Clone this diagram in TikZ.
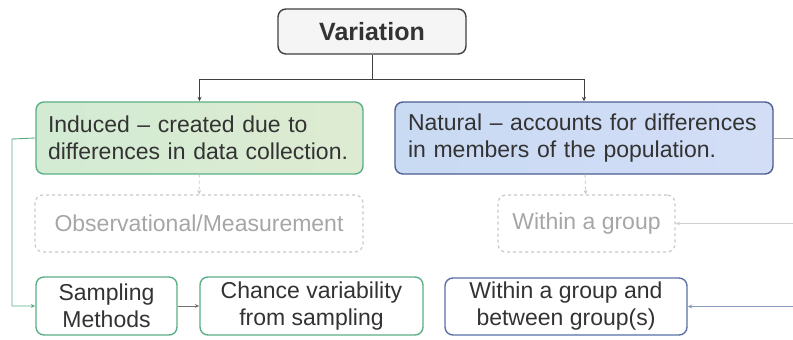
\documentclass[tikz,border=0pt]{standalone}
\usepackage{fontspec}
\setmainfont{Liberation Sans}
\usetikzlibrary{arrows.meta}
\definecolor{leafgreen}{HTML}{5BAF86}
\definecolor{leafblue}{HTML}{5B6FA8}
\definecolor{softgray}{HTML}{C8C8C8}
\definecolor{greenL}{HTML}{D3EBD3}
\definecolor{greenR}{HTML}{DDEBD2}
\definecolor{blueL}{HTML}{C9DAF3}
\definecolor{blueR}{HTML}{D3DDF6}
\begin{document}
\begin{tikzpicture}[x=1pt, y=-1pt, >={Stealth[length=4.5pt,width=4pt]},
  every node/.style={font=\fontsize{23}{27}\selectfont, text=black!80},
  box/.style={draw, rounded corners=8pt, line width=1.4pt, inner sep=0pt, align=center},
  ghost/.style={draw=softgray, dashed, rounded corners=8pt, line width=1.2pt, inner sep=0pt, text=black!35}]
\useasboundingbox (0,0) rectangle (793,340);
\node[box,draw=black!75,fill=black!4,minimum width=188pt,minimum height=45pt,font=\fontsize{25}{28}\selectfont\bfseries] (var) at (372,31.5) {Variation};
\node[box,draw=leafgreen,left color=greenL,right color=greenR,minimum width=327pt,minimum height=72pt,text width=303pt,align=left] (ind) at (199.5,138) {Induced -- created due to\\differences in data collection.};
\node[box,draw=leafblue!85!black,left color=blueL,right color=blueR,minimum width=378pt,minimum height=72pt,text width=352pt,align=left] (nat) at (584,138) {Natural -- accounts for differences\\in members of the population.};
\node[ghost,minimum width=328pt,minimum height=57pt] (obs) at (199,223.5) {Observational/Measurement};
\node[ghost,minimum width=177pt,minimum height=57pt] (wg) at (586.5,223.5) {Within a group};
\node[box,draw=leafgreen,minimum width=141pt,minimum height=58pt] (samp) at (106.5,306) {Sampling\\Methods};
\node[box,draw=leafgreen,minimum width=223pt,minimum height=58pt] (chance) at (311.5,306) {Chance variability\\from sampling};
\node[box,draw=leafblue,minimum width=242pt,minimum height=57pt] (wgb) at (566,306.5) {Within a group and\\between group(s)};
% tree from the root
\coordinate (split) at (372,79);
\draw[black!75,line width=0.9pt] (var) -- (split);
\draw[->,black!75,line width=0.9pt] (split) -| (ind);
\draw[->,black!75,line width=0.9pt] (split) -| (nat);
% induced side
\coordinate (lrail) at (12,139);
\draw[->,leafgreen,line width=0.9pt] (ind.west) -- (lrail) |- (samp);
\draw[->,black!55,line width=0.9pt] (samp) -- (chance);
\draw[->,softgray,dashed,line width=0.9pt] (ind) -- (obs);
% natural side
\coordinate (rrail) at (805,138);
\draw[black!35,line width=0.9pt] (nat) -- (rrail);
\draw[->,black!18,line width=0.9pt] (rrail |- wg) -- (wg);
\draw[->,leafblue!70,line width=0.9pt] (rrail) |- (wgb);
\draw[->,softgray,dashed,line width=0.9pt] (nat) -- (wg);
\end{tikzpicture}
\end{document}
